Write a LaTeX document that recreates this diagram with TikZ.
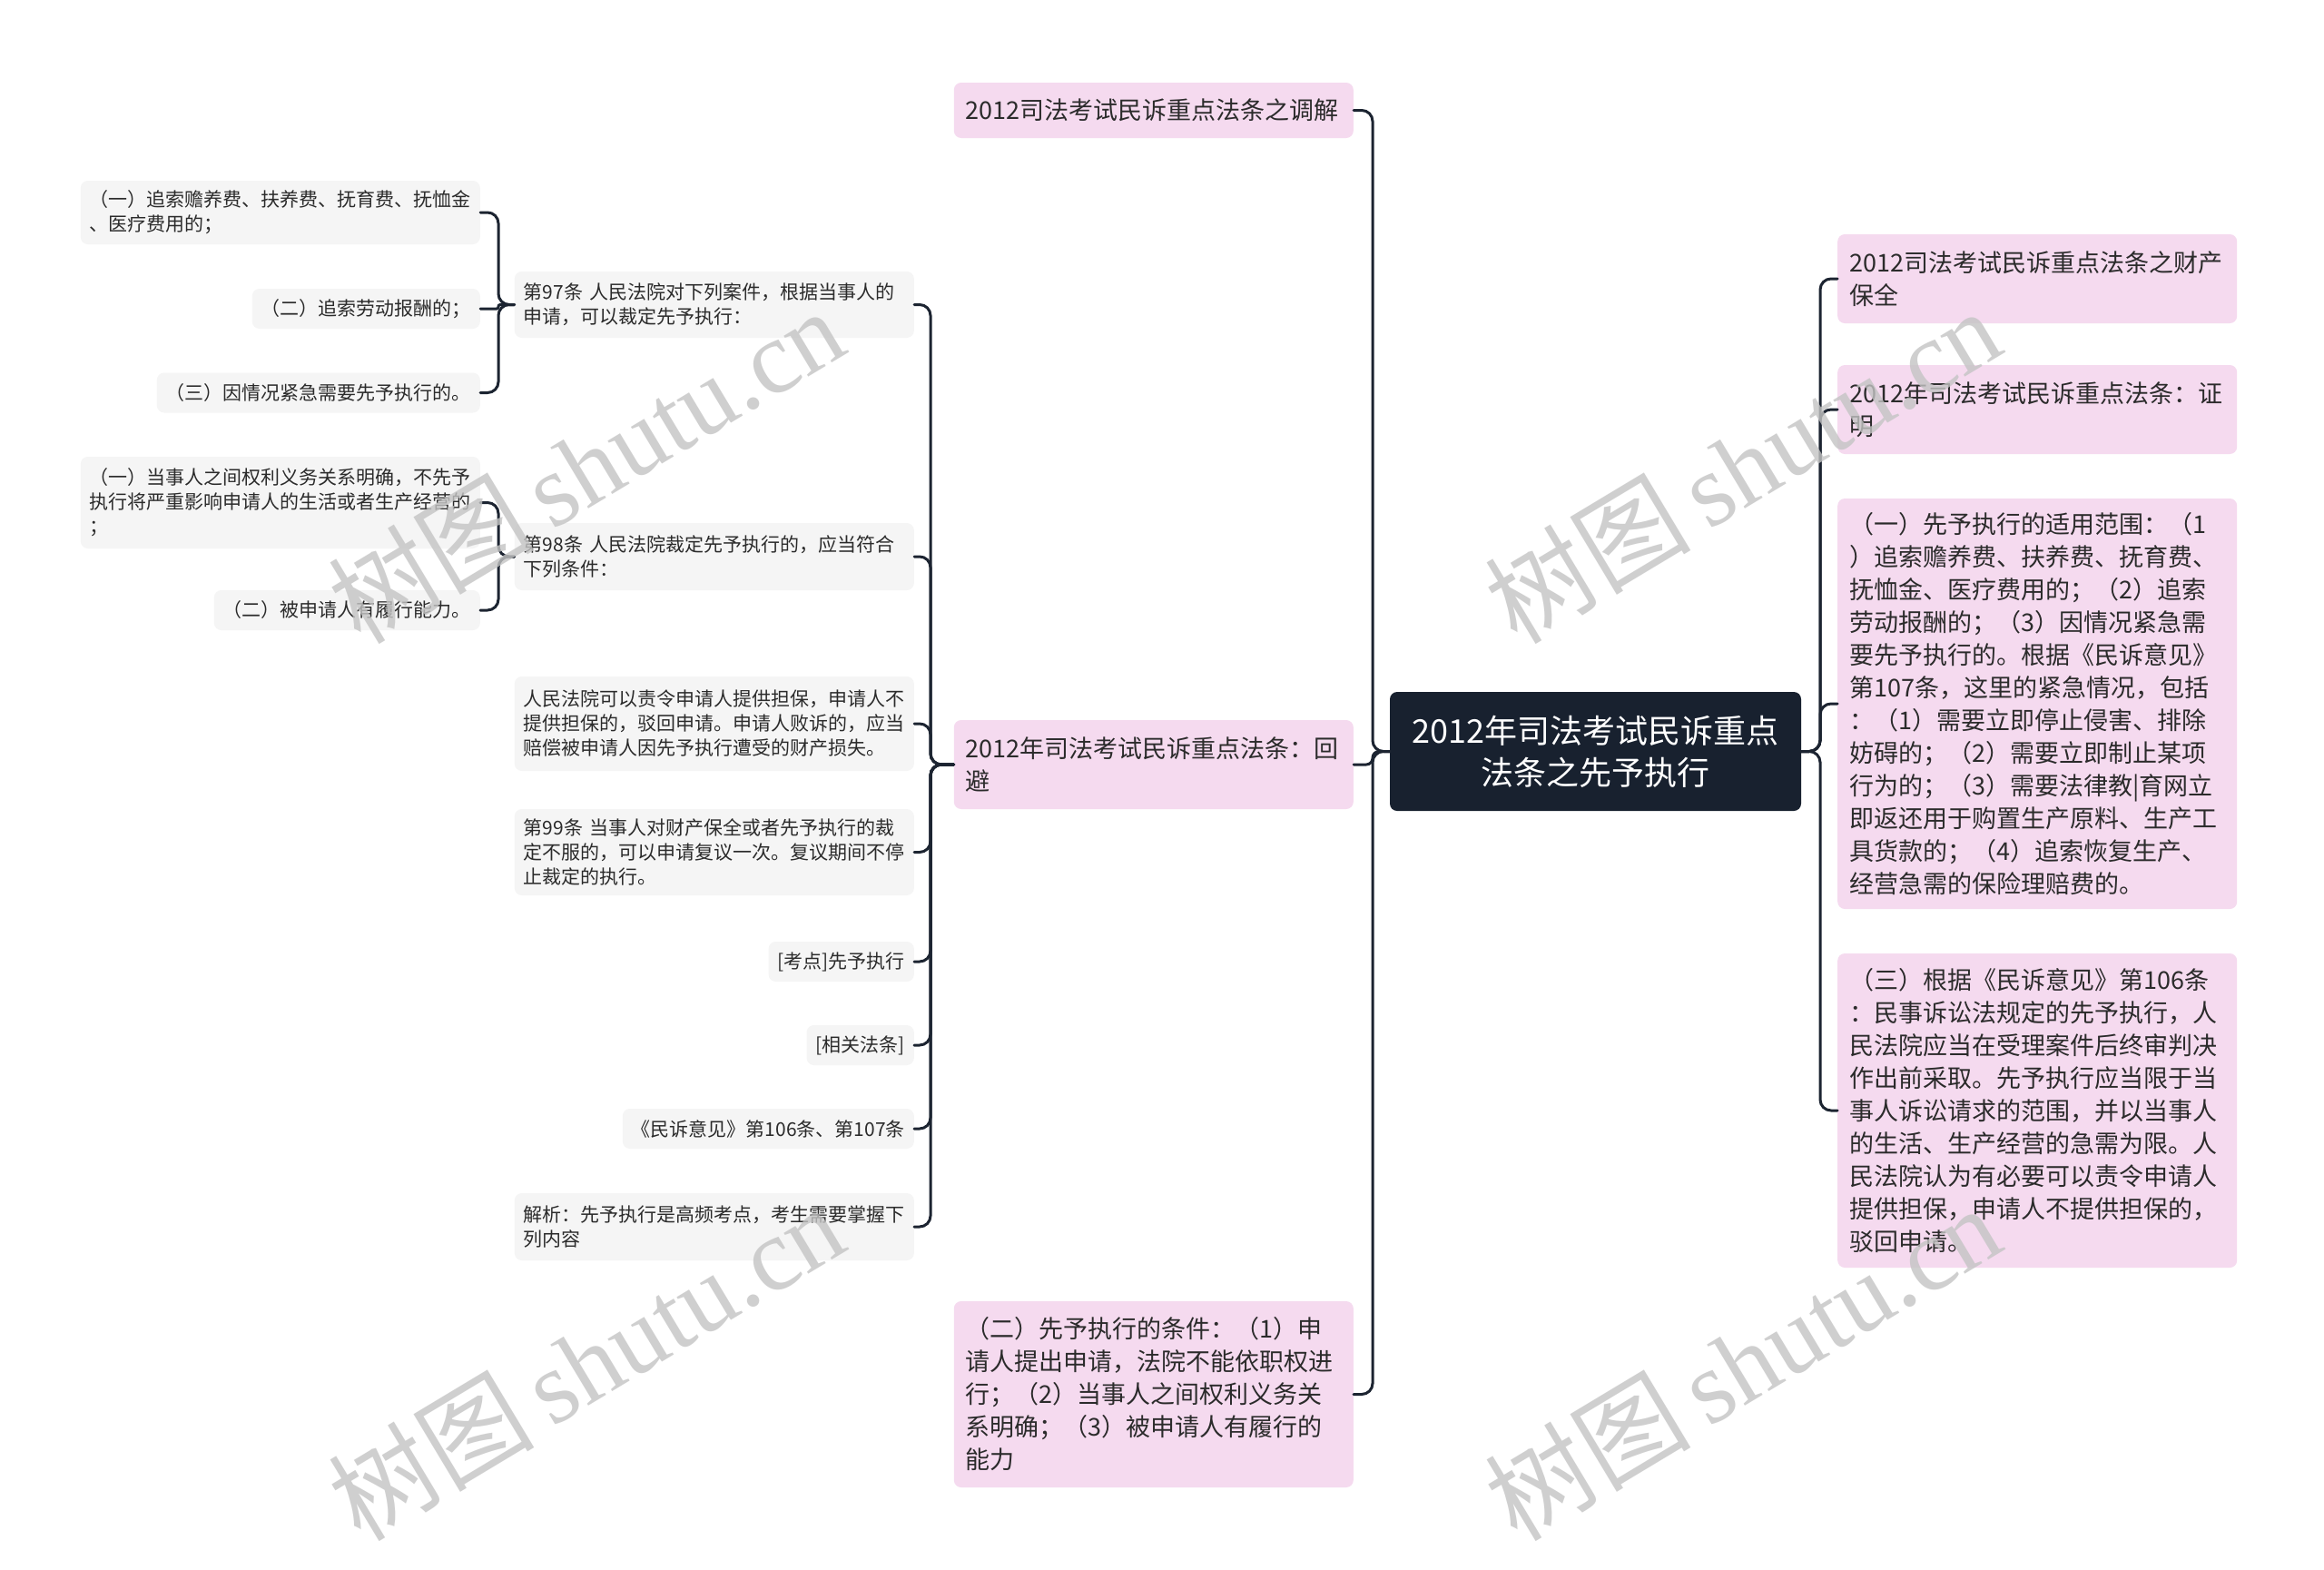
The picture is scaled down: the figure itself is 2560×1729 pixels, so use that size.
\documentclass[tikz,border=0pt]{standalone}
\usepackage{fontspec}
\setmainfont{Noto Sans CJK SC}
\newfontfamily\wmlatin{Liberation Serif}
\definecolor{pinkc}{HTML}{F5DAEF}
\definecolor{grayc}{HTML}{F5F5F5}
\definecolor{rootc}{HTML}{18212F}
\definecolor{linec}{HTML}{1C2431}
\definecolor{txtc}{HTML}{2B2B2B}
\definecolor{wmc}{HTML}{C4C4C4}
\tikzset{
  rootbox/.style={rectangle, rounded corners=8pt, fill=rootc, text=white,
    font=\fontsize{36}{46}\selectfont, align=center, inner sep=0pt,
    minimum width=453pt, minimum height=131pt},
  lvtwo/.style={rectangle, rounded corners=8pt, fill=pinkc, text=txtc,
    font=\fontsize{27}{36}\selectfont, align=left, text width=414pt,
    inner xsep=13pt, inner ysep=0pt},
  lvthree/.style={rectangle, rounded corners=8pt, fill=grayc, text=txtc,
    font=\fontsize{21}{27}\selectfont, inner xsep=10pt, inner ysep=0pt},
  wide/.style={text width=420pt, align=left},
  conn/.style={draw=linec, line width=3pt, line cap=round},
  wm/.style={text=wmc, text opacity=0.8, inner sep=0pt}
}
\newcommand\lnk[4][12pt]{\draw[conn, rounded corners=#1] (#2) -- (#3 |- #2) -- (#3 |- #4) -- (#4);}
\begin{document}
\begin{tikzpicture}[x=1pt,y=-1pt]
\fill[white] (0,0) rectangle (2560,1729);
\useasboundingbox (0,0) rectangle (2560,1729);

\coordinate (SL) at (1512,0);
\coordinate (SR) at (2005,0);
\coordinate (SH) at (1025,0);
\coordinate (SK) at (549,0);

% root
\node[rootbox] (root) at (1757.5,827.5) {2012年司法考试民诉重点\\法条之先予执行};

% left level 2
\node[lvtwo, anchor=east, minimum height=61pt] (tiaojie) at (1491,121.5) {2012司法考试民诉重点法条之调解};
\node[lvtwo, anchor=east, minimum height=98pt] (huibi) at (1491,842) {2012年司法考试民诉重点法条：回\\避};
\node[lvtwo, anchor=east, minimum height=205pt] (tiaojian) at (1491,1535.5) {（二）先予执行的条件：（1）申\\请人提出申请，法院不能依职权进\\行；（2）当事人之间权利义务关\\系明确；（3）被申请人有履行的\\能力};

% right level 2
\node[lvtwo, anchor=west, minimum height=98pt] (caichan) at (2024,307) {2012司法考试民诉重点法条之财产\\保全};
\node[lvtwo, anchor=west, minimum height=98pt] (zhengming) at (2024,451) {2012年司法考试民诉重点法条：证\\明};
\node[lvtwo, anchor=west, minimum height=452pt] (fanwei) at (2024,775) {（一）先予执行的适用范围：（1\\）追索赡养费、扶养费、抚育费、\\抚恤金、医疗费用的；（2）追索\\劳动报酬的；（3）因情况紧急需\\要先予执行的。根据《民诉意见》\\第107条，这里的紧急情况，包括\\：（1）需要立即停止侵害、排除\\妨碍的；（2）需要立即制止某项\\行为的；（3）需要法律教|育网立\\即返还用于购置生产原料、生产工\\具货款的；（4）追索恢复生产、\\经营急需的保险理赔费的。};
\node[lvtwo, anchor=west, minimum height=346pt] (genju) at (2024,1223) {（三）根据《民诉意见》第106条\\：民事诉讼法规定的先予执行，人\\民法院应当在受理案件后终审判决\\作出前采取。先予执行应当限于当\\事人诉讼请求的范围，并以当事人\\的生活、生产经营的急需为限。人\\民法院认为有必要可以责令申请人\\提供担保，申请人不提供担保的，\\驳回申请。};

% level 3 (children of huibi)
\node[lvthree, wide, anchor=east, minimum height=73pt] (k97) at (1007,335.5) {第97条 人民法院对下列案件，根据当事人的\\申请，可以裁定先予执行：};
\node[lvthree, wide, anchor=east, minimum height=74pt] (k98) at (1007,613) {第98条 人民法院裁定先予执行的，应当符合\\下列条件：};
\node[lvthree, wide, anchor=east, minimum height=104pt] (zeling) at (1007,797) {人民法院可以责令申请人提供担保，申请人不\\提供担保的，驳回申请。申请人败诉的，应当\\赔偿被申请人因先予执行遭受的财产损失。};
\node[lvthree, wide, anchor=east, minimum height=95pt] (k99) at (1007,938.5) {第99条 当事人对财产保全或者先予执行的裁\\定不服的，可以申请复议一次。复议期间不停\\止裁定的执行。};
\node[lvthree, anchor=east, minimum height=44pt] (kaodian) at (1007,1059) {[考点]先予执行};
\node[lvthree, anchor=east, minimum height=44pt] (xiangguan) at (1007,1151) {[相关法条]};
\node[lvthree, anchor=east, minimum height=44pt] (minsu) at (1007,1243) {《民诉意见》第106条、第107条};
\node[lvthree, wide, anchor=east, minimum height=74pt] (jiexi) at (1007,1351) {解析：先予执行是高频考点，考生需要掌握下\\列内容};

% level 4
\node[lvthree, wide, anchor=east, minimum height=70pt] (a1) at (529,234) {（一）追索赡养费、扶养费、抚育费、抚恤金\\、医疗费用的；};
\node[lvthree, anchor=east, minimum height=44pt] (a2) at (529,340) {（二）追索劳动报酬的；};
\node[lvthree, anchor=east, minimum height=44pt] (a3) at (529,432.5) {（三）因情况紧急需要先予执行的。};
\node[lvthree, wide, anchor=east, minimum height=101pt] (b1) at (529,553.5) {（一）当事人之间权利义务关系明确，不先予\\执行将严重影响申请人的生活或者生产经营的\\；};
\node[lvthree, anchor=east, minimum height=44pt] (b2) at (529,672) {（二）被申请人有履行能力。};

% connectors
\lnk{root.west}{SL}{tiaojie.east}
\lnk[7pt]{root.west}{SL}{huibi.east}
\lnk{root.west}{SL}{tiaojian.east}
\lnk{root.east}{SR}{caichan.west}
\lnk{root.east}{SR}{zhengming.west}
\lnk{root.east}{SR}{fanwei.west}
\lnk{root.east}{SR}{genju.west}

\lnk{huibi.west}{SH}{k97.east}
\lnk{huibi.west}{SH}{k98.east}
\lnk{huibi.west}{SH}{zeling.east}
\lnk{huibi.west}{SH}{k99.east}
\lnk{huibi.west}{SH}{kaodian.east}
\lnk{huibi.west}{SH}{xiangguan.east}
\lnk{huibi.west}{SH}{minsu.east}
\lnk{huibi.west}{SH}{jiexi.east}

\lnk{k97.west}{SK}{a1.east}
\lnk[2pt]{k97.west}{SK}{a2.east}
\lnk{k97.west}{SK}{a3.east}
\lnk{k98.west}{SK}{b1.east}
\lnk{k98.west}{SK}{b2.east}

% watermarks
\foreach \wx/\wy [count=\i] in {645/512, 1919/512, 645/1500, 1919/1500}{
  \node[wm, rotate=31] (wm\i) at (\wx,\wy) {\fontsize{114}{114}\selectfont 树图\,{\wmlatin shutu.cn}};
}
\end{tikzpicture}
\end{document}
